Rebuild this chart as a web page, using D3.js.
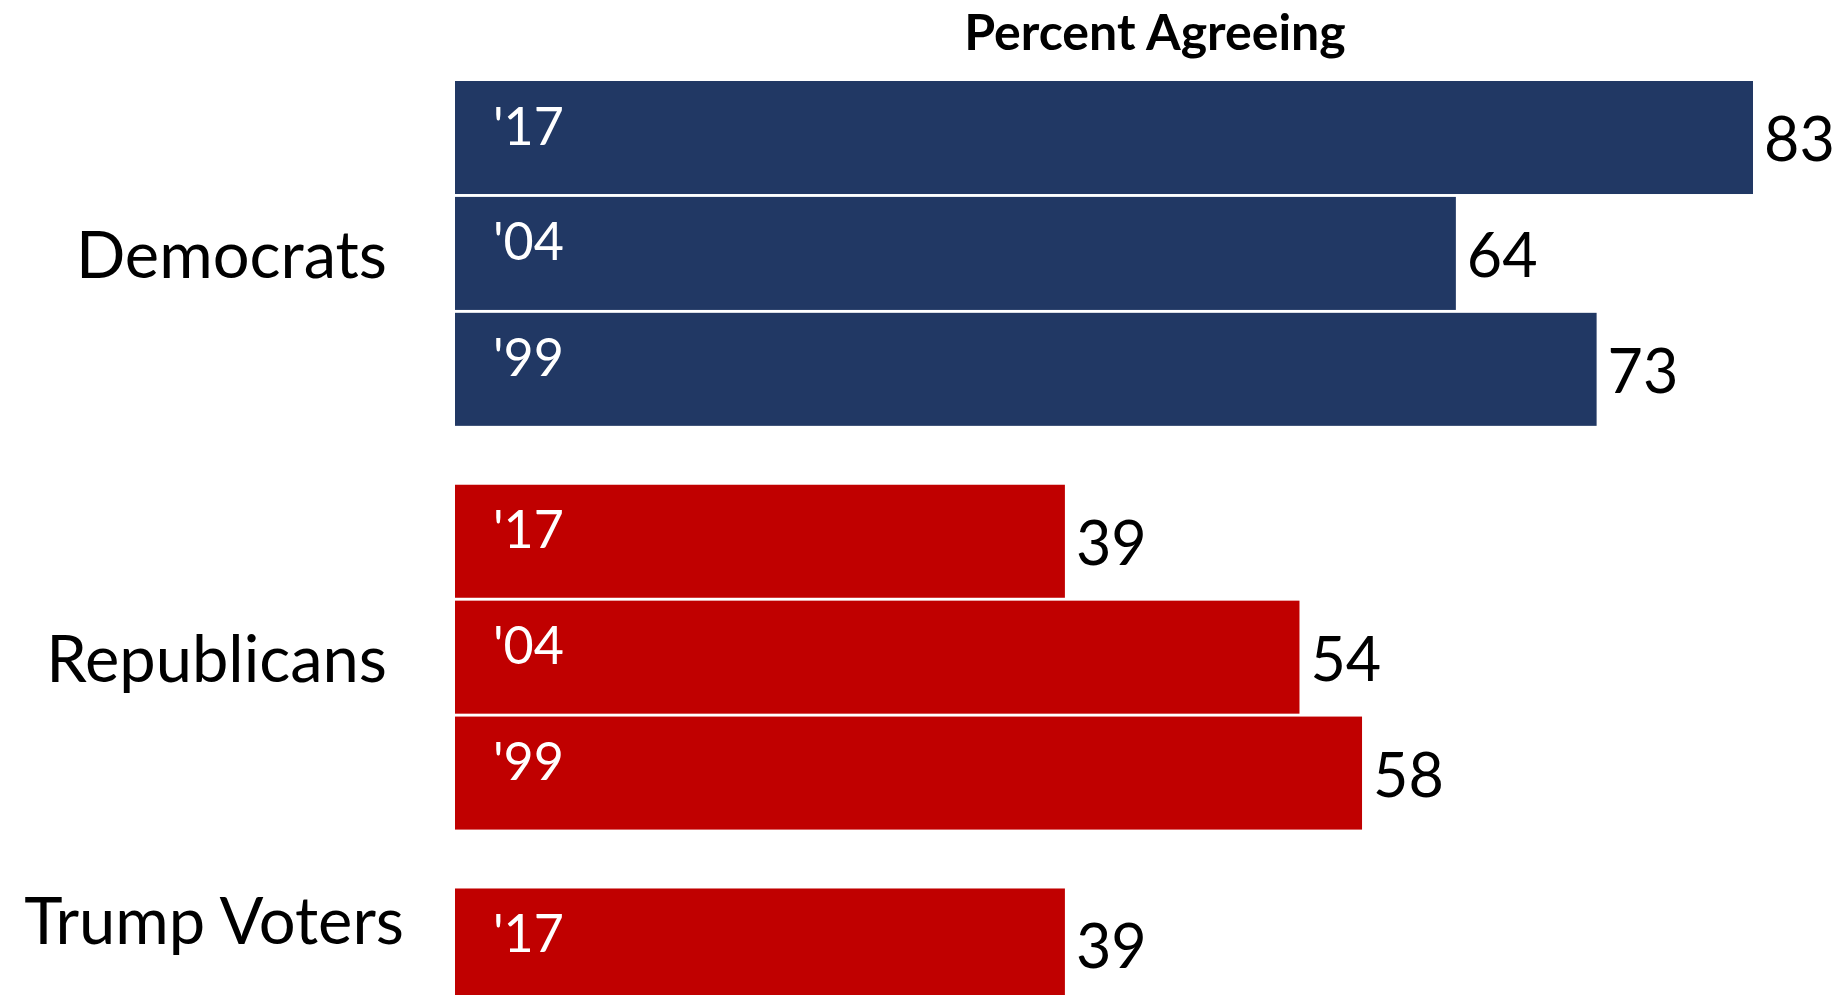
<!DOCTYPE html>
<html>
<head>
<meta charset="utf-8">
<script src="https://cdn.jsdelivr.net/npm/d3@7"></script>
<style>
	body { margin: 0; background: #fff; }
	text { font-family: Lato, "Open Sans", sans-serif; }
</style>
</head>
<body>
<div class="container"></div>
<script>
var groups = ["Democrats", "Republicans", "Trump Voters"];
var years = [["'17", "'04", "'99"], ["'17", "'04", "'99"], ["'17"]];
var values = [[83, 64, 73], [39, 54, 58], [39]];
var groupColors = ["#213864", "#c00000", "#c00000"];
var title = "Percent Agreeing";

(function() {
	var width = 1844, height = 995;
	var left = 455, top = 81;
	var step = 115.5, groupGap = 56;

	var rows = [];
	groups.forEach(function(g, gi) {
		years[gi].forEach(function(y, yi) {
			rows.push({id: gi + "-" + yi, group: g, gi: gi, year: y, value: values[gi][yi]});
		});
	});

	var svg = d3.select(".container").append("svg")
		.attr("width", width)
		.attr("height", height);

	var x = d3.scaleLinear().domain([0, 83]).range([left, 1753]);
	var y = d3.scaleBand()
		.domain(rows.map(function(d) { return d.id; }))
		.range([top, top + rows.length * step])
		.paddingInner(0.025)
		.paddingOuter(0);

	function rowY(d) { return y(d.id) + d.gi * groupGap; }

	svg.append("text")
		.attr("x", 1155)
		.attr("y", 31)
		.attr("text-anchor", "middle")
		.attr("dominant-baseline", "central")
		.attr("font-size", 50)
		.attr("font-weight", "bold")
		.attr("fill", "#000")
		.text(title);

	var bar = svg.selectAll("g.row")
		.data(rows)
		.enter().append("g")
		.attr("class", "row");

	bar.append("rect")
		.attr("x", x(0))
		.attr("y", rowY)
		.attr("width", function(d) { return x(d.value) - x(0); })
		.attr("height", y.bandwidth())
		.attr("fill", function(d) { return groupColors[d.gi]; });

	bar.append("text")
		.attr("x", x(0) + 38)
		.attr("y", function(d) { return rowY(d) + y.bandwidth() / 2 - 13; })
		.attr("dominant-baseline", "central")
		.attr("font-size", 52)
		.attr("fill", "#fff")
		.text(function(d) { return d.year; });

	bar.append("text")
		.attr("x", function(d) { return x(d.value) + 11; })
		.attr("y", function(d) { return rowY(d) + y.bandwidth() / 2; })
		.attr("dominant-baseline", "central")
		.attr("font-size", 61)
		.attr("fill", "#000")
		.text(function(d) { return d.value; });

	// group labels, centred on their bars
	groups.forEach(function(g, gi) {
		var r = rows.filter(function(d) { return d.gi === gi; });
		var y0 = rowY(r[0]), y1 = rowY(r[r.length - 1]) + y.bandwidth();
		var last = gi === groups.length - 1;
		svg.append("text")
			.attr("x", last ? 404 : 387)
			.attr("y", last ? 919 : (y0 + y1) / 2)
			.attr("text-anchor", "end")
			.attr("dominant-baseline", "central")
			.attr("font-size", 65)
			.attr("fill", "#000")
			.text(g);
	});
})();
</script>
</body>
</html>
